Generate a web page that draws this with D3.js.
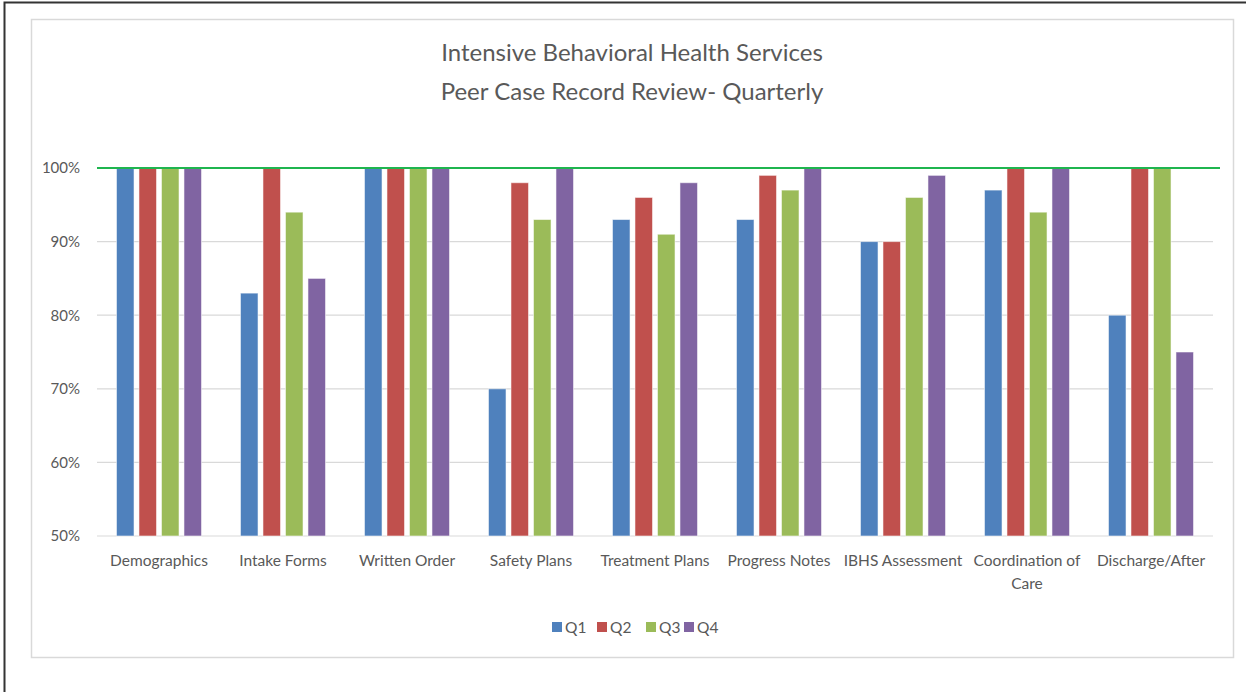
<!DOCTYPE html>
<html>
<head>
<meta charset="utf-8">
<script src="https://cdn.jsdelivr.net/npm/d3@7"></script>
<style>
  html, body { margin: 0; padding: 0; background: #fff; }
  svg { display: block; font-family: Lato, "Open Sans", sans-serif; }
</style>
</head>
<body>
<svg id="chart" width="1246" height="692"></svg>
<script>
// Review categories (x axis)
const categories = [
  "Demographics", "Intake Forms", "Written Order", "Safety Plans",
  "Treatment Plans", "Progress Notes", "IBHS Assessment",
  "Coordination of Care", "Discharge/After"
];
// Quarterly compliance percentages per category
const q1 = [100, 83, 100, 70, 93, 93, 90, 97, 80];
const q2 = [100, 100, 100, 98, 96, 99, 90, 100, 100];
const q3 = [100, 94, 100, 93, 91, 97, 96, 94, 100];
const q4 = [100, 85, 100, 100, 98, 100, 99, 100, 75];
const seriesNames = ["Q1", "Q2", "Q3", "Q4"];
const seriesColors = ["#4f81bd", "#c0504d", "#9bbb59", "#8064a2"];
const yTicks = [50, 60, 70, 80, 90, 100];
const targetValue = 100;
const titleLines = ["Intensive Behavioral Health Services", "Peer Case Record Review- Quarterly"];

const series = [q1, q2, q3, q4];
const svg = d3.select("#chart");

// page border (top and left edges)
svg.append("path")
  .attr("d", "M4.5,692 L4.5,2.5 L1246,2.5")
  .attr("fill", "none").attr("stroke", "#333").attr("stroke-width", 2);

// chart area frame
svg.append("rect")
  .attr("x", 31.5).attr("y", 19.5).attr("width", 1202).attr("height", 638)
  .attr("fill", "#fff").attr("stroke", "#d9d9d9").attr("stroke-width", 1.5);

// title
svg.append("g").selectAll("text").data(titleLines).join("text")
  .attr("x", 632).attr("y", (d, i) => 61 + i * 39)
  .attr("text-anchor", "middle")
  .attr("font-size", 24).attr("fill", "#595959")
  .text(d => d);

const plot = { left: 97, right: 1213, top: 168, bottom: 536 };

const x0 = d3.scaleBand().domain(categories).range([plot.left, plot.right]);
const x1 = d3.scaleBand().domain(seriesNames)
  .range([17, x0.bandwidth() - 17]).paddingInner(0.22).paddingOuter(0.11);
const y = d3.scaleLinear().domain([50, 100]).range([plot.bottom, plot.top]);

// gridlines
svg.append("g").selectAll("line").data(yTicks).join("line")
  .attr("x1", plot.left).attr("x2", plot.right)
  .attr("y1", d => y(d)).attr("y2", d => y(d))
  .attr("stroke", "#d9d9d9").attr("stroke-width", 1.2);

// y axis labels
const yAxis = d3.axisLeft(y).tickValues(yTicks).tickSize(0).tickPadding(17)
  .tickFormat(d => d + "%");
const yg = svg.append("g").attr("transform", `translate(${plot.left},0)`).call(yAxis);
yg.select(".domain").remove();
yg.selectAll("text").attr("font-size", 15).attr("fill", "#595959")
  .attr("font-family", "Lato, 'Open Sans', sans-serif");

// bars
const groups = svg.append("g").selectAll("g").data(categories).join("g")
  .attr("transform", c => `translate(${x0(c)},0)`);
groups.selectAll("rect")
  .data((c, ci) => seriesNames.map((s, si) => ({ s, si, v: series[si][ci] })))
  .join("rect")
  .attr("x", d => x1(d.s))
  .attr("width", x1.bandwidth())
  .attr("y", d => y(d.v))
  .attr("height", d => y(50) - y(d.v))
  .attr("fill", d => seriesColors[d.si])
  .attr("stroke", "#fff").attr("stroke-opacity", 0.55).attr("stroke-width", 1);

// target line at 100%
svg.append("line")
  .attr("x1", plot.left).attr("x2", plot.right + 7)
  .attr("y1", y(targetValue)).attr("y2", y(targetValue))
  .attr("stroke", "#1fb54f").attr("stroke-width", 2);

// x axis labels (wrapped)
const wrapLabels = { "Coordination of Care": ["Coordination of", "Care"] };
const xl = svg.append("g").selectAll("text").data(categories).join("text")
  .attr("x", c => x0(c) + x0.bandwidth() / 2)
  .attr("y", 566)
  .attr("text-anchor", "middle").attr("font-size", 15.5).attr("fill", "#595959");
xl.selectAll("tspan").data(c => wrapLabels[c] || [c]).join("tspan")
  .attr("x", function () { return d3.select(this.parentNode).attr("x"); })
  .attr("dy", (d, i) => i === 0 ? 0 : 23)
  .text(d => d);

// legend
const legend = svg.append("g").attr("transform", "translate(552,627)");
const itemX = [0, 45, 94, 132];
const li = legend.selectAll("g").data(seriesNames).join("g")
  .attr("transform", (d, i) => `translate(${itemX[i]},0)`);
li.append("rect").attr("x", 0).attr("y", -5).attr("width", 10).attr("height", 10)
  .attr("fill", (d, i) => seriesColors[i]);
li.append("text").attr("x", 13).attr("y", 5.5).attr("font-size", 15.5)
  .attr("fill", "#595959").text(d => d);
</script>
</body>
</html>
